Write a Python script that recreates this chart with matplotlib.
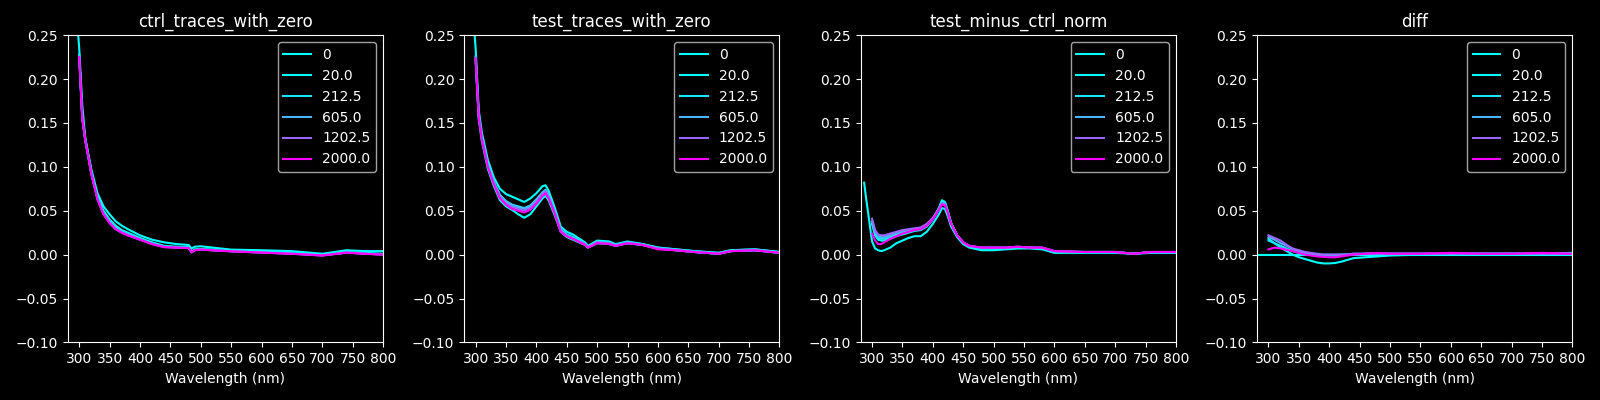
import numpy as np
import matplotlib.pyplot as plt

labels = ['0', '20.0', '212.5', '605.0', '1202.5', '2000.0']
doses = [0, 20.0, 212.5, 605.0, 1202.5, 2000.0]
titles = ['ctrl_traces_with_zero', 'test_traces_with_zero', 'test_minus_ctrl_norm', 'diff']

# ---- ctrl_traces_with_zero
ctrl_wl0 = [285, 290, 295, 300, 305, 310, 320, 330, 340, 350, 360, 370, 380, 400, 420, 440, 460, 480, 485, 490, 500, 550, 600, 650, 700, 740, 770, 800]
ctrl_wl = [300, 305, 310, 320, 330, 340, 350, 360, 370, 380, 400, 420, 440, 460, 480, 485, 490, 500, 550, 600, 650, 700, 740, 770, 800]
ctrl_0 = [0.42, 0.34, 0.28, 0.235, 0.170, 0.132, 0.097, 0.070, 0.055, 0.046, 0.038, 0.033, 0.029, 0.022, 0.017, 0.014, 0.012, 0.011, 0.007, 0.009, 0.0095, 0.0057, 0.005, 0.004, 0.001, 0.005, 0.004, 0.004]
ctrl_20 = [0.228, 0.158, 0.132, 0.094, 0.066, 0.050, 0.040, 0.033, 0.028, 0.025, 0.019, 0.014, 0.010, 0.009, 0.0085, 0.0035, 0.006, 0.0065, 0.0045, 0.0035, 0.002, 0.0, 0.003, 0.002, 0.001]
ctrl_212 = [0.227, 0.157, 0.131, 0.093, 0.065, 0.048, 0.038, 0.031, 0.027, 0.024, 0.018, 0.013, 0.0095, 0.0085, 0.008, 0.003, 0.0055, 0.006, 0.004, 0.003, 0.0015, -0.0005, 0.0025, 0.0015, 0.0005]
ctrl_605 = [0.226, 0.156, 0.130, 0.092, 0.064, 0.047, 0.037, 0.030, 0.026, 0.023, 0.0175, 0.0125, 0.009, 0.0082, 0.0078, 0.0028, 0.0052, 0.0058, 0.0039, 0.0025, 0.0012, -0.0008, 0.0024, 0.0012, 0.0002]
ctrl_1202 = [0.225, 0.155, 0.130, 0.092, 0.063, 0.046, 0.036, 0.029, 0.025, 0.022, 0.017, 0.012, 0.0086, 0.008, 0.0076, 0.0026, 0.005, 0.0057, 0.0038, 0.0023, 0.001, -0.001, 0.0023, 0.001, 0.0]
ctrl_2000 = [0.225, 0.155, 0.130, 0.092, 0.063, 0.046, 0.036, 0.029, 0.025, 0.022, 0.017, 0.012, 0.0085, 0.008, 0.0075, 0.0025, 0.005, 0.0057, 0.0038, 0.0023, 0.001, -0.001, 0.0023, 0.001, 0.0]

# ---- test_traces_with_zero
test_wl0 = [290, 295, 300, 305, 310, 320, 330, 340, 350, 360, 370, 380, 390, 400, 410, 415, 420, 430, 440, 450, 460, 480, 485, 500, 520, 530, 550, 575, 600, 630, 660, 700, 720, 760, 800]
test_wl = [300, 305, 310, 320, 330, 340, 350, 360, 370, 380, 390, 400, 410, 415, 420, 430, 440, 450, 460, 480, 485, 500, 520, 530, 550, 575, 600, 630, 660, 700, 720, 760, 800]
test_0 = [0.33, 0.28, 0.235, 0.165, 0.140, 0.108, 0.088, 0.075, 0.069, 0.066, 0.063, 0.060, 0.064, 0.070, 0.078, 0.079, 0.073, 0.054, 0.032, 0.026, 0.023, 0.014, 0.010, 0.016, 0.015, 0.012, 0.015, 0.012, 0.008, 0.006, 0.004, 0.002, 0.005, 0.006, 0.003]
test_20 = [0.220, 0.155, 0.130, 0.098, 0.078, 0.062, 0.055, 0.051, 0.046, 0.042, 0.046, 0.055, 0.064, 0.067, 0.062, 0.045, 0.026, 0.020, 0.017, 0.011, 0.008, 0.013, 0.012, 0.010, 0.013, 0.011, 0.007, 0.005, 0.003, 0.001, 0.004, 0.005, 0.002]
test_212 = [0.226, 0.160, 0.135, 0.103, 0.083, 0.068, 0.061, 0.057, 0.055, 0.053, 0.056, 0.063, 0.071, 0.074, 0.068, 0.050, 0.029, 0.023, 0.020, 0.013, 0.009, 0.015, 0.014, 0.011, 0.014, 0.012, 0.008, 0.006, 0.004, 0.002, 0.005, 0.006, 0.003]
test_605 = [0.225, 0.159, 0.134, 0.102, 0.082, 0.067, 0.060, 0.056, 0.054, 0.052, 0.055, 0.062, 0.070, 0.073, 0.067, 0.049, 0.028, 0.022, 0.019, 0.012, 0.009, 0.014, 0.013, 0.011, 0.014, 0.011, 0.007, 0.005, 0.003, 0.001, 0.004, 0.005, 0.002]
test_1202 = [0.224, 0.158, 0.133, 0.101, 0.081, 0.065, 0.058, 0.054, 0.052, 0.050, 0.053, 0.060, 0.069, 0.072, 0.066, 0.048, 0.027, 0.021, 0.018, 0.012, 0.008, 0.014, 0.013, 0.010, 0.013, 0.011, 0.007, 0.005, 0.003, 0.001, 0.004, 0.005, 0.002]
test_2000 = [0.223, 0.157, 0.132, 0.100, 0.080, 0.064, 0.057, 0.052, 0.050, 0.048, 0.051, 0.058, 0.067, 0.070, 0.064, 0.047, 0.026, 0.021, 0.018, 0.011, 0.008, 0.013, 0.012, 0.010, 0.013, 0.011, 0.006, 0.005, 0.003, 0.001, 0.004, 0.005, 0.002]

# ---- test_minus_ctrl_norm
norm_wl0 = [287, 290, 295, 300, 305, 310, 315, 320, 330, 340, 350, 360, 370, 380, 390, 400, 410, 415, 420, 425, 430, 440, 450, 460, 480, 500, 520, 540, 560, 580, 600, 650, 700, 730, 760, 800]
norm_wl = [300, 305, 310, 315, 320, 330, 340, 350, 360, 370, 380, 390, 400, 410, 415, 420, 425, 430, 440, 450, 460, 480, 500, 520, 540, 560, 580, 600, 650, 700, 730, 760, 800]
norm_0 = [0.082, 0.065, 0.040, 0.015, 0.007, 0.005, 0.004, 0.005, 0.008, 0.013, 0.016, 0.019, 0.021, 0.021, 0.026, 0.035, 0.046, 0.053, 0.052, 0.043, 0.032, 0.020, 0.012, 0.008, 0.005, 0.005, 0.006, 0.007, 0.007, 0.006, 0.002, 0.002, 0.002, 0.001, 0.002, 0.002]
norm_20 = [0.035, 0.022, 0.017, 0.016, 0.016, 0.018, 0.021, 0.023, 0.025, 0.027, 0.028, 0.032, 0.040, 0.053, 0.062, 0.060, 0.049, 0.036, 0.022, 0.013, 0.009, 0.007, 0.007, 0.007, 0.008, 0.008, 0.007, 0.003, 0.003, 0.003, 0.001, 0.003, 0.002]
norm_212 = [0.036, 0.024, 0.019, 0.018, 0.018, 0.020, 0.023, 0.025, 0.027, 0.028, 0.029, 0.033, 0.041, 0.053, 0.060, 0.059, 0.048, 0.036, 0.022, 0.013, 0.009, 0.007, 0.007, 0.007, 0.008, 0.008, 0.007, 0.003, 0.003, 0.003, 0.001, 0.003, 0.002]
norm_605 = [0.038, 0.026, 0.021, 0.020, 0.020, 0.022, 0.025, 0.027, 0.028, 0.029, 0.030, 0.034, 0.041, 0.052, 0.059, 0.058, 0.048, 0.036, 0.022, 0.014, 0.010, 0.008, 0.008, 0.008, 0.009, 0.008, 0.008, 0.004, 0.003, 0.003, 0.001, 0.003, 0.003]
norm_1202 = [0.041, 0.028, 0.023, 0.022, 0.022, 0.024, 0.026, 0.028, 0.029, 0.030, 0.031, 0.035, 0.042, 0.052, 0.058, 0.057, 0.047, 0.035, 0.022, 0.014, 0.010, 0.008, 0.008, 0.008, 0.009, 0.008, 0.008, 0.004, 0.003, 0.003, 0.001, 0.003, 0.003]
norm_2000 = [0.024, 0.016, 0.012, 0.012, 0.014, 0.018, 0.021, 0.024, 0.026, 0.028, 0.029, 0.033, 0.040, 0.051, 0.057, 0.056, 0.047, 0.035, 0.022, 0.014, 0.010, 0.008, 0.008, 0.008, 0.009, 0.008, 0.008, 0.004, 0.003, 0.003, 0.001, 0.003, 0.003]

# ---- diff
diff_wl0 = [285, 800]
diff_wl = [300, 310, 320, 330, 340, 350, 360, 370, 380, 390, 400, 410, 420, 430, 440, 460, 480, 500, 550, 600, 650, 700, 750, 800]
diff_0 = [0.0, 0.0]
diff_20 = [0.018, 0.013, 0.008, 0.004, 0.0, -0.003, -0.005, -0.007, -0.009, -0.010, -0.010, -0.0095, -0.008, -0.006, -0.004, -0.003, -0.002, -0.001, 0.0, 0.001, 0.001, 0.001, 0.001, 0.002]
diff_212 = [0.016, 0.013, 0.010, 0.007, 0.004, 0.002, 0.001, 0.0, -0.001, -0.001, -0.001, -0.001, 0.0, 0.0, 0.0, 0.001, 0.001, 0.001, 0.001, 0.001, 0.001, 0.001, 0.001, 0.001]
diff_605 = [0.020, 0.017, 0.013, 0.010, 0.006, 0.004, 0.002, 0.001, 0.0, 0.0, 0.0, 0.0, 0.0, 0.0, 0.001, 0.001, 0.001, 0.001, 0.001, 0.001, 0.001, 0.001, 0.001, 0.001]
diff_1202 = [0.022, 0.019, 0.016, 0.011, 0.007, 0.005, 0.003, 0.002, 0.001, 0.0, 0.0, 0.0, 0.0, 0.0, 0.001, 0.001, 0.001, 0.001, 0.001, 0.001, 0.001, 0.001, 0.001, 0.001]
diff_2000 = [0.006, 0.008, 0.007, 0.0055, 0.004, 0.002, 0.0, -0.001, -0.002, -0.0025, -0.003, -0.003, -0.002, -0.001, 0.0, 0.001, 0.002, 0.001, 0.001, 0.002, 0.001, 0.001, 0.002, 0.001]

panels = [
    (ctrl_wl0, ctrl_wl, [ctrl_0, ctrl_20, ctrl_212, ctrl_605, ctrl_1202, ctrl_2000]),
    (test_wl0, test_wl, [test_0, test_20, test_212, test_605, test_1202, test_2000]),
    (norm_wl0, norm_wl, [norm_0, norm_20, norm_212, norm_605, norm_1202, norm_2000]),
    (diff_wl0, diff_wl, [diff_0, diff_20, diff_212, diff_605, diff_1202, diff_2000]),
]

plt.style.use('dark_background')
fig, axes = plt.subplots(1, 4, figsize=(16, 4), dpi=100)
fig.subplots_adjust(left=0.0423, right=0.9827, top=0.912, bottom=0.144, wspace=0.257)

cmap = plt.get_cmap('cool')
for ax, title, (wl0, wl, series) in zip(axes, titles, panels):
    for i, (lab, dose, ys) in enumerate(zip(labels, doses, series)):
        x = wl0 if i == 0 else wl
        ax.plot(x, ys, color=cmap(dose / max(doses)), lw=1.5, label=lab)
    ax.set_title(title)
    ax.set_xlabel('Wavelength (nm)')
    ax.set_xlim(281, 800)
    ax.set_ylim(-0.10, 0.25)
    ax.set_xticks(np.arange(300, 801, 50))
    ax.legend(loc='upper right')

plt.savefig('out.png')
